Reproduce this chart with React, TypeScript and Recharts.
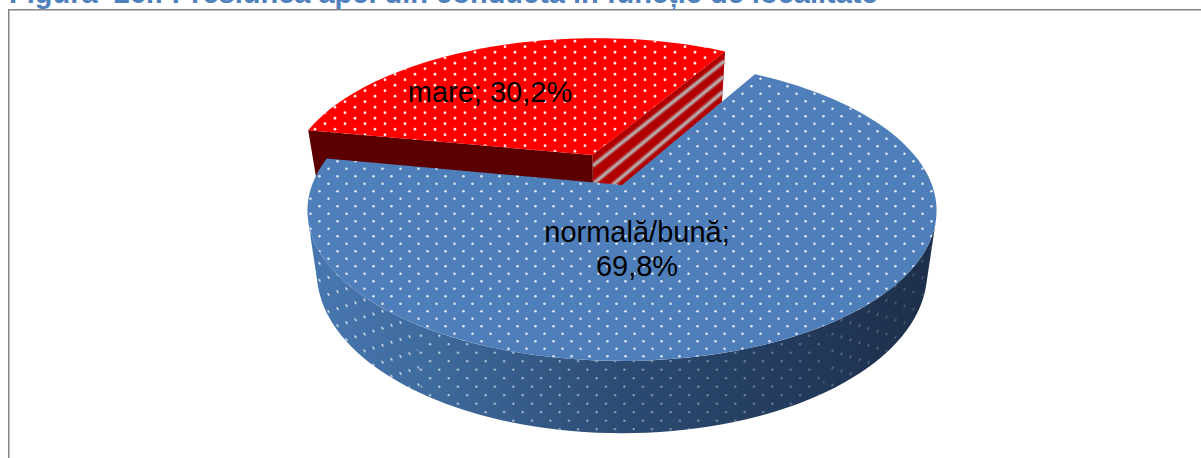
import React from "react";
import { PieChart, Pie, Cell } from "recharts";

const names = ["mare", "normală/bună"];
const shares = [30.2, 69.8];
const titleText = "Figura  26.: Presiunea apei din conductă în funcție de localitate";

const chartData = names.map((name, i) => ({ name, value: shares[i] }));

const W = 1201;
const H = 458;
const PIE_CX = 622;
const PIE_CY = 185;
const PIE_R = 310;
const TILT = 146 / 310;
const DEPTH = 60 / 310;
const PERSP = 0.17;
const SHRINK = 0.97;
const EXPLODE = 0.235;

const rad = (d: number) => (d * Math.PI) / 180;

type Pt = [number, number];

function makeProjector(cx: number, cy: number, r: number, offU: number, offV: number) {
  return (u: number, v: number, z: number): Pt => {
    const mu = u + offU;
    const mv = v + offV;
    const f = 1 / (1 - PERSP * mv);
    const s = z ? 1 - (1 - SHRINK) * z : 1;
    return [cx + r * mu * f * s, cy + r * TILT * mv * f + z * r * DEPTH * f];
  };
}

function toPath(pts: Pt[]) {
  return "M" + pts.map((p) => p[0].toFixed(2) + " " + p[1].toFixed(2)).join("L") + "Z";
}

function arcPoints(proj: (u: number, v: number, z: number) => Pt, a0: number, a1: number, z: number) {
  const pts: Pt[] = [];
  const n = Math.max(2, Math.ceil(Math.abs(a1 - a0) / 2));
  for (let i = 0; i <= n; i++) {
    const a = rad(a0 + ((a1 - a0) * i) / n);
    pts.push(proj(Math.cos(a), -Math.sin(a), z));
  }
  return pts;
}

function wallPath(proj: (u: number, v: number, z: number) => Pt, a0: number, a1: number) {
  return toPath([...arcPoints(proj, a0, a1, 0), ...arcPoints(proj, a1, a0, 1)]);
}

const PieSlice3D = (props: any) => {
  const { cx, cy, outerRadius, startAngle, endAngle, index } = props;
  const isRed = index === 0;
  const mid = rad((startAngle + endAngle) / 2);
  const off = isRed ? EXPLODE : 0;
  const proj = makeProjector(cx, cy, outerRadius, Math.cos(mid) * off, -Math.sin(mid) * off);
  const top = toPath([proj(0, 0, 0), ...arcPoints(proj, startAngle, endAngle, 0)]);

  if (isRed) {
    const ur = Math.cos(rad(startAngle));
    const vr = -Math.sin(rad(startAngle));
    const ul = Math.cos(rad(endAngle));
    const vl = -Math.sin(rad(endAngle));
    const rightWall = toPath([proj(0, 0, 0), proj(ur, vr, 0), proj(ur, vr, 1), proj(0, 0, 1)]);
    const leftWall = toPath([proj(0, 0, 0), proj(ul, vl, 0), proj(ul, vl, 1), proj(0, 0, 1)]);
    const stripe = (t: number) => {
      const a = proj(0, 0, t);
      const b = proj(ur, vr, t);
      return `M${a[0]} ${a[1]}L${b[0]} ${b[1]}`;
    };
    return (
      <g>
        <path d={rightWall} fill="#b00000" />
        {[0.19, 0.5, 0.8].map((t) => (
          <g key={t}>
            <path d={stripe(t)} stroke="#c0aaaa" strokeOpacity={0.4} strokeWidth={5.5} fill="none" />
            <path d={stripe(t)} stroke="#b4a9a9" strokeWidth={2.5} fill="none" />
          </g>
        ))}
        <path d={leftWall} fill="#5a0000" />
        <path d={top} fill="#ff0000" />
        <path d={top} fill="url(#dotsRed)" />
      </g>
    );
  }

  return (
    <g>
      <path d={wallPath(proj, 194, 346)} fill="url(#blueWall)" />
      <g mask="url(#wallDotFade)">
        <path d={wallPath(proj, 194, 235)} fill="url(#dotsWallLeft)" />
        <path d={wallPath(proj, 235, 305)} fill="url(#dotsWallMid)" />
        <path d={wallPath(proj, 305, 346)} fill="url(#dotsWallRight)" />
      </g>
      <path d={top} fill="#4f7fbb" />
      <path d={top} fill="url(#dotsBlue)" />
    </g>
  );
};

const labelStyle = { fontFamily: "'Liberation Sans', Arial, sans-serif", fontSize: 29, fill: "#000" };
const fmt = (v: number) => v.toFixed(1).replace(".", ",") + "%";

const renderLabel = (props: any) => {
  const { index, name, value } = props;
  if (index === 0) {
    return (
      <text x={490} y={102} textAnchor="middle" style={labelStyle}>
        {name}; {fmt(value)}
      </text>
    );
  }
  return (
    <text textAnchor="middle" style={labelStyle}>
      <tspan x={637} y={242}>{name};</tspan>
      <tspan x={637} y={276}>{fmt(value)}</tspan>
    </text>
  );
};

function Dots({ id, w, h, r, color, opacity = 1, transform }: any) {
  return (
    <pattern id={id} width={w} height={h} patternUnits="userSpaceOnUse" patternTransform={transform}>
      <circle cx={w / 4} cy={h / 4} r={r} fill={color} fillOpacity={opacity} />
      <circle cx={(3 * w) / 4} cy={(3 * h) / 4} r={r} fill={color} fillOpacity={opacity} />
    </pattern>
  );
}

export default function App() {
  return (
    <div style={{ position: "absolute", left: 0, top: 0, width: W, height: H, overflow: "hidden", background: "#fff" }}>
      <svg width={W} height={H} style={{ position: "absolute", left: 0, top: 0 }}>
        <defs>
          <Dots id="dotsBlue" w={18} h={15} r={1.25} color="#f2f6fb" opacity={0.9} />
          <Dots id="dotsRed" w={20} h={11} r={1.4} color="#ffe8e8" />
          <Dots id="dotsWallLeft" w={18} h={17} r={1.15} color="#fff" transform="skewY(32)" />
          <Dots id="dotsWallMid" w={18.5} h={17} r={1.15} color="#fff" />
          <Dots id="dotsWallRight" w={18} h={17} r={1.15} color="#fff" transform="skewY(-32)" />
          <linearGradient id="blueWall" gradientUnits="userSpaceOnUse" x1={310} y1={0} x2={935} y2={0}>
            <stop offset="0" stopColor="#4877b0" />
            <stop offset="0.2" stopColor="#3e6a9c" />
            <stop offset="0.5" stopColor="#2c4b73" />
            <stop offset="0.8" stopColor="#22395a" />
            <stop offset="1" stopColor="#1d2f49" />
          </linearGradient>
          <linearGradient id="wallFade" gradientUnits="userSpaceOnUse" x1={310} y1={0} x2={935} y2={0}>
            <stop offset="0" stopColor="#fff" stopOpacity={0.85} />
            <stop offset="0.5" stopColor="#fff" stopOpacity={0.5} />
            <stop offset="1" stopColor="#fff" stopOpacity={0.18} />
          </linearGradient>
          <mask id="wallDotFade" maskUnits="userSpaceOnUse" x={0} y={0} width={W} height={H}>
            <rect x={0} y={0} width={W} height={H} fill="url(#wallFade)" />
          </mask>
        </defs>
        <rect x={8.75} y={9.75} width={1400} height={800} fill="#fff" stroke="#868686" strokeWidth={1.5} />
        <text
          x={9}
          y={3}
          style={{ fontFamily: "'Liberation Sans', Arial, sans-serif", fontWeight: 700, fontSize: 29, fill: "#4f81bd", whiteSpace: "pre" }}
        >
          {titleText}
        </text>
      </svg>
      <div style={{ position: "absolute", left: 0, top: 0 }}>
        <PieChart width={W} height={H} margin={{ top: 0, right: 0, bottom: 0, left: 0 }}>
          <Pie
            data={chartData}
            dataKey="value"
            nameKey="name"
            cx={PIE_CX}
            cy={PIE_CY}
            innerRadius={0}
            outerRadius={PIE_R}
            startAngle={60.5}
            endAngle={420.5}
            stroke="none"
            isAnimationActive={false}
            shape={PieSlice3D}
            label={renderLabel}
            labelLine={false}
          >
            {chartData.map((d) => (
              <Cell key={d.name} fill={d.name === "mare" ? "#ff0000" : "#4f7fbb"} />
            ))}
          </Pie>
        </PieChart>
      </div>
    </div>
  );
}
